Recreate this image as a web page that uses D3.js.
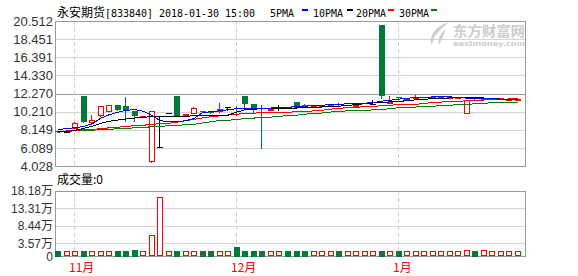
<!DOCTYPE html>
<html>
<head>
<meta charset="utf-8">
<script src="https://cdn.jsdelivr.net/npm/d3@7"></script>
<style>
  body { margin: 0; background: #fff; }
  svg { display: block; }
  .tick-label { font-family: "Liberation Sans", Arial, "Noto Sans CJK SC", sans-serif; font-size: 13px; fill: #333; }
  .vol-label { font-size: 12px; }
  .cjk { font-family: "Noto Sans CJK SC", sans-serif; font-size: 12px; }
  .mono { font-family: "DejaVu Sans Mono", "Liberation Mono", monospace; font-size: 11px; }
</style>
</head>
<body>
<div id="chart"></div>
<script>
// daily K-line of 永安期货 [833840], oldest first
const openPrices = [7.97, 7.95, 8.34, 12.03, 9.02, 9.86, 10.31, 11.00, 10.88, 10.31,
  9.70, 4.64, 6.17, 10.05, 12.03, 9.78, 10.05, 10.31, 10.12, 10.28,
  10.73, 10.62, 11.95, 11.11, 10.62, 10.50, 10.62, 10.65, 11.26, 10.92,
  10.85, 10.95, 10.85, 11.12, 10.95, 10.93, 11.20, 11.10, 20.06, 11.20,
  11.85, 11.74, 11.78, 11.88, 11.85, 11.86, 11.88, 11.90, 10.05, 11.75,
  11.70, 11.72, 11.70, 11.66, 11.66];
const highPrices = [7.97, 7.95, 9.06, 12.03, 9.86, 10.80, 10.92, 11.00, 11.88, 10.31,
  9.75, 10.28, 9.74, 10.05, 12.03, 9.94, 10.74, 10.31, 10.12, 11.23,
  10.73, 10.88, 11.95, 11.11, 11.00, 10.55, 11.00, 10.65, 11.26, 11.08,
  10.90, 11.00, 10.95, 11.18, 10.95, 10.96, 11.20, 11.57, 20.06, 11.95,
  11.90, 11.76, 12.12, 11.90, 11.90, 11.90, 11.92, 11.92, 11.57, 11.75,
  11.76, 11.75, 11.72, 11.68, 11.68];
const lowPrices = [7.94, 7.95, 8.34, 8.98, 8.94, 9.74, 10.31, 10.35, 9.09, 9.17,
  9.70, 4.52, 6.17, 10.05, 9.66, 9.78, 10.05, 10.16, 10.00, 10.12,
  10.37, 9.86, 10.74, 10.08, 6.05, 10.50, 10.35, 10.60, 10.62, 10.77,
  10.85, 10.75, 10.85, 10.95, 10.95, 10.93, 11.20, 11.10, 11.76, 11.20,
  11.75, 11.74, 11.74, 11.85, 11.85, 11.86, 11.88, 11.90, 10.05, 11.70,
  11.70, 11.72, 11.70, 11.66, 11.66];
const closePrices = [7.94, 7.95, 8.91, 8.98, 9.28, 10.80, 10.92, 10.35, 10.31, 9.66,
  9.75, 10.28, 6.17, 10.05, 9.66, 9.94, 10.58, 10.16, 10.00, 10.51,
  10.73, 10.58, 11.11, 10.43, 10.58, 10.55, 10.62, 10.60, 10.62, 10.85,
  10.90, 11.00, 10.95, 11.02, 10.95, 10.96, 11.20, 11.10, 11.95, 11.26,
  11.80, 11.76, 11.84, 11.88, 11.90, 11.90, 11.92, 11.92, 11.57, 11.70,
  11.76, 11.75, 11.72, 11.68, 11.68];
// volume in 万
const volumes = [1.45, 1.3, 1.3, 1.4, 1.3, 1.3, 1.3, 1.4, 1.4, 1.7,
  1.3, 5.8, 16.6, 1.3, 1.4, 1.3, 1.3, 1.4, 1.4, 1.3,
  1.3, 2.45, 1.4, 1.4, 1.4, 1.3, 1.3, 1.4, 1.4, 1.4,
  1.3, 1.3, 1.3, 1.4, 1.3, 1.3, 1.3, 1.3, 1.4, 1.3,
  1.4, 1.3, 1.3, 1.3, 1.3, 1.3, 1.3, 1.3, 1.7, 1.4,
  1.7, 1.3, 1.3, 1.3, 1.3];

const ma5 = [8.14, 8.31, 8.37, 8.54, 8.83, 9.46, 9.86, 10.14, 10.37, 10.43,
  10.26, 9.80, 9.17, 9.09, 9.09, 9.17, 9.45, 10.12, 10.20, 10.31,
  10.43, 10.54, 10.60, 10.62, 10.62, 10.62, 10.65, 10.71, 10.77, 10.83,
  10.88, 10.94, 11.00, 11.05, 11.09, 11.11, 11.17, 11.23, 11.40, 11.51,
  11.62, 11.74, 11.80, 11.82, 11.88, 11.88, 11.88, 11.85, 11.74, 11.68,
  11.68, 11.68, 11.62, 11.60, 11.60];
const ma10 = [7.95, 7.95, 8.09, 8.31, 8.54, 8.88, 9.11, 9.25, 9.38, 9.48,
  9.57, 9.63, 9.68, 9.68, 9.66, 9.68, 9.74, 9.78, 9.80, 9.80,
  9.82, 10.15, 10.45, 10.50, 10.52, 10.54, 10.56, 10.60, 10.62, 10.65,
  10.71, 10.74, 10.79, 10.83, 10.91, 11.00, 11.11, 11.19, 11.26, 11.32,
  11.37, 11.45, 11.55, 11.62, 11.68, 11.74, 11.76, 11.76, 11.76, 11.76,
  11.76, 11.74, 11.62, 11.57, 11.57];
const ma20 = [7.86, 8.03, 8.09, 8.14, 8.20, 8.26, 8.37, 8.43, 8.54, 8.60,
  8.66, 8.77, 8.83, 8.88, 9.02, 9.17, 9.34, 9.51, 9.63, 9.74,
  9.82, 9.91, 10.03, 10.05, 10.06, 10.08, 10.11, 10.14, 10.20, 10.23,
  10.29, 10.37, 10.48, 10.60, 10.65, 10.71, 10.77, 10.80, 10.88, 10.94,
  11.00, 11.00, 11.05, 11.11, 11.28, 11.30, 11.36, 11.37, 11.45, 11.49,
  11.53, 11.57, 11.62, 11.65, 11.65];
const ma30 = [7.91, 7.97, 8.03, 8.06, 8.11, 8.14, 8.20, 8.26, 8.31, 8.37,
  8.43, 8.48, 8.54, 8.60, 8.66, 8.71, 8.77, 8.94, 9.06, 9.20,
  9.22, 9.34, 9.40, 9.48, 9.54, 9.59, 9.68, 9.76, 9.80, 9.91,
  10.03, 10.05, 10.16, 10.22, 10.31, 10.33, 10.37, 10.40, 10.46, 10.54,
  10.65, 10.65, 10.73, 10.77, 10.83, 10.88, 10.94, 11.00, 11.03, 11.11,
  11.14, 11.23, 11.28, 11.30, 11.30];

const priceTicks = [4.028, 6.089, 8.149, 10.210, 12.270, 14.330, 16.391, 18.451, 20.512];
const volumeTicks = [0, 3.57, 8.44, 13.31, 18.18];
const monthStarts = [2, 21, 40];
const monthLabels = ["11月", "12月", "1月"];
const maNames = ["5PMA", "10PMA", "20PMA", "30PMA"];
const maColours = ["#0000ff", "#000000", "#ff0000", "#008000"];

const UP = "#ff0000", DOWN = "#00793a", FLAT = "#000000";

class KLineChart {
  constructor(_config) {
    this.config = {
      parentElement: _config.parentElement,
      containerWidth: _config.containerWidth || 578,
      containerHeight: _config.containerHeight || 276,
      left: 55, right: 525,
      price: { top: 21, bottom: 166 },
      volume: { top: 191, bottom: 256 },
    };
    this.initVis();
  }

  initVis() {
    let vis = this;
    const c = vis.config;

    vis.data = openPrices.map((o, i) => ({
      i: i, open: o, high: highPrices[i], low: lowPrices[i], close: closePrices[i], volume: volumes[i],
    }));

    vis.svg = d3.select(c.parentElement).append("svg")
      .attr("width", c.containerWidth)
      .attr("height", c.containerHeight);

    vis.xScale = d3.scaleBand().domain(d3.range(vis.data.length)).range([54, 522]);
    vis.center = (i) => vis.xScale(i) + vis.xScale.step() / 2;
    vis.barX = (i) => Math.round(vis.center(i) - 3);

    vis.yScale = d3.scaleLinear().domain([4.028, 20.512]).range([c.price.bottom, c.price.top]);
    vis.vScale = d3.scaleLinear().domain([0, 18.18]).range([c.volume.bottom, c.volume.top]);

    vis.drawFrames();
    vis.drawWatermark();
    vis.drawCandles();
    vis.drawMovingAverages();
    vis.drawVolume();
    vis.drawTexts();
  }

  drawFrames() {
    let vis = this;
    const c = vis.config;
    const crisp = (v) => Math.round(v) + 0.5;

    // price grid, the middle line is darker
    vis.svg.append("g").selectAll("line")
      .data(priceTicks)
      .join("line")
      .attr("x1", c.left).attr("x2", c.right)
      .attr("y1", (d) => crisp(vis.yScale(d)))
      .attr("y2", (d) => crisp(vis.yScale(d)))
      .attr("stroke", (d) => (d === 12.270 ? "#999" : "#d4d4d4"));

    vis.svg.append("g").selectAll("line")
      .data(volumeTicks)
      .join("line")
      .attr("x1", c.left).attr("x2", c.right)
      .attr("y1", (d) => crisp(vis.vScale(d)))
      .attr("y2", (d) => crisp(vis.vScale(d)))
      .attr("stroke", "#d4d4d4");

    // month separators, dashed
    [c.price, c.volume].forEach((area) => {
      vis.svg.append("g").selectAll("line")
        .data(monthStarts)
        .join("line")
        .attr("x1", (d) => vis.barX(d) + 2.5)
        .attr("x2", (d) => vis.barX(d) + 2.5)
        .attr("y1", area.top).attr("y2", area.bottom)
        .attr("stroke", "#cfcfcf")
        .attr("stroke-dasharray", "4,3");
    });

    [c.price, c.volume].forEach((area) => {
      vis.svg.append("rect")
        .attr("x", c.left + 0.5).attr("y", area.top + 0.5)
        .attr("width", c.right - c.left).attr("height", area.bottom - area.top)
        .attr("fill", "none").attr("stroke", "#999");
    });
  }

  drawWatermark() {
    let vis = this;
    const g = vis.svg.append("g").attr("fill", "#cdcdcd");
    g.append("path").attr("d", "M449,22 C438,25 429,34 431,45 C433,37 440,29 449,22 Z");
    g.append("path").attr("d", "M446,29 C441,33 437,39 439,45 C441,40 444,35 446,29 Z");
    g.append("path").attr("d", "M436,31 C433,35 431,40 433,44 C433,39 434,35 436,31 Z");
    g.append("text")
      .attr("x", 453).attr("y", 36)
      .attr("textLength", 72).attr("lengthAdjust", "spacingAndGlyphs")
      .style("font-family", "'Noto Sans CJK SC', sans-serif")
      .style("font-size", "14px").style("font-weight", "bold")
      .text("东方财富网");
    g.append("text")
      .attr("x", 453).attr("y", 46)
      .attr("textLength", 72).attr("lengthAdjust", "spacingAndGlyphs")
      .style("font-family", "'DejaVu Sans', sans-serif")
      .style("font-size", "7px").style("font-weight", "bold")
      .text("eastmoney.com");
  }

  drawCandles() {
    let vis = this;
    const py = (v) => Math.round(vis.yScale(v));
    const g = vis.svg.append("g").attr("shape-rendering", "crispEdges");

    vis.data.forEach((d) => {
      const bx = vis.barX(d.i);
      const colour = d.close > d.open ? UP : d.close < d.open ? DOWN : FLAT;
      const top = py(Math.max(d.open, d.close));
      const bottom = py(Math.min(d.open, d.close));

      // wick
      g.append("line")
        .attr("x1", bx + 2.5).attr("x2", bx + 2.5)
        .attr("y1", py(d.high)).attr("y2", py(d.low) + 1)
        .attr("stroke", colour);

      if (d.close > d.open) {
        g.append("rect")
          .attr("x", bx + 0.5).attr("y", top + 0.5)
          .attr("width", 5).attr("height", Math.max(1, bottom - top))
          .attr("fill", "#fff").attr("stroke", UP);
      } else if (d.close < d.open) {
        g.append("rect")
          .attr("x", bx).attr("y", top)
          .attr("width", 6).attr("height", Math.max(1, bottom - top))
          .attr("fill", DOWN);
      } else {
        g.append("line")
          .attr("x1", bx).attr("x2", bx + 6)
          .attr("y1", top + 0.5).attr("y2", top + 0.5)
          .attr("stroke", FLAT);
      }
    });
  }

  drawMovingAverages() {
    let vis = this;
    const line = d3.line()
      .x((d, i) => vis.center(i))
      .y((d) => vis.yScale(d));

    vis.svg.append("g").selectAll("path")
      .data([ma30, ma20, ma10, ma5])
      .join("path")
      .attr("d", line)
      .attr("fill", "none")
      .attr("stroke", (d, i) => maColours[3 - i])
      .attr("stroke-width", 1)
      .attr("shape-rendering", "crispEdges");
  }

  drawVolume() {
    let vis = this;
    const base = vis.config.volume.bottom;
    vis.svg.append("g").attr("shape-rendering", "crispEdges")
      .selectAll("rect")
      .data(vis.data)
      .join("rect")
      .each(function (d) {
        const bx = vis.barX(d.i);
        const top = Math.round(vis.vScale(d.volume));
        const up = d.close >= d.open;
        d3.select(this)
          .attr("x", up ? bx + 0.5 : bx)
          .attr("y", up ? top + 0.5 : top)
          .attr("width", up ? 5 : 6)
          .attr("height", up ? base - top - 1 : base - top + 1)
          .attr("fill", up ? "#fff" : DOWN)
          .attr("stroke", up ? UP : "none");
      });
  }

  drawTexts() {
    let vis = this;

    vis.svg.append("g").selectAll("text")
      .data(priceTicks)
      .join("text")
      .attr("class", "tick-label")
      .attr("x", 53)
      .attr("y", (d) => vis.yScale(d))
      .attr("dy", "0.36em")
      .attr("text-anchor", "end")
      .text((d) => d3.format(".3f")(d));

    vis.svg.append("g").selectAll("text")
      .data(volumeTicks)
      .join("text")
      .attr("class", "tick-label vol-label")
      .attr("x", 53)
      .attr("y", (d) => vis.vScale(d) + (d === 0 ? 1 : 0))
      .attr("dy", "0.36em")
      .attr("text-anchor", "end")
      .text((d) => (d === 0 ? "0" : d3.format(".2f")(d) + "万"));

    vis.svg.append("g").selectAll("text")
      .data(monthStarts)
      .join("text")
      .attr("class", "cjk")
      .attr("x", (d) => vis.barX(d) - 3)
      .attr("y", 272)
      .attr("fill", "#ff0000")
      .text((d, i) => monthLabels[i]);

    // header
    vis.svg.append("text").attr("class", "cjk")
      .attr("x", 57).attr("y", 16.5).attr("fill", "#000")
      .text("永安期货");
    vis.svg.append("text").attr("class", "mono")
      .attr("x", 105).attr("y", 16.5).attr("fill", "#000")
      .attr("textLength", 150).attr("lengthAdjust", "spacingAndGlyphs")
      .text("[833840] 2018-01-30 15:00");

    const legendX = [270, 313, 356, 399];
    const dashX = [302, 347, 388, 431];
    maNames.forEach((name, i) => {
      vis.svg.append("text").attr("class", "mono")
        .attr("x", legendX[i]).attr("y", 16.5).attr("fill", "#000")
        .attr("textLength", name.length * 6).attr("lengthAdjust", "spacingAndGlyphs")
        .text(name);
      vis.svg.append("rect")
        .attr("x", dashX[i]).attr("y", 9)
        .attr("width", 6).attr("height", 2)
        .attr("fill", maColours[i]);
    });

    vis.svg.append("text").attr("class", "cjk")
      .attr("x", 57).attr("y", 184).attr("fill", "#000")
      .text("成交量:0");
  }
}

new KLineChart({ parentElement: "#chart" });
</script>
</body>
</html>
